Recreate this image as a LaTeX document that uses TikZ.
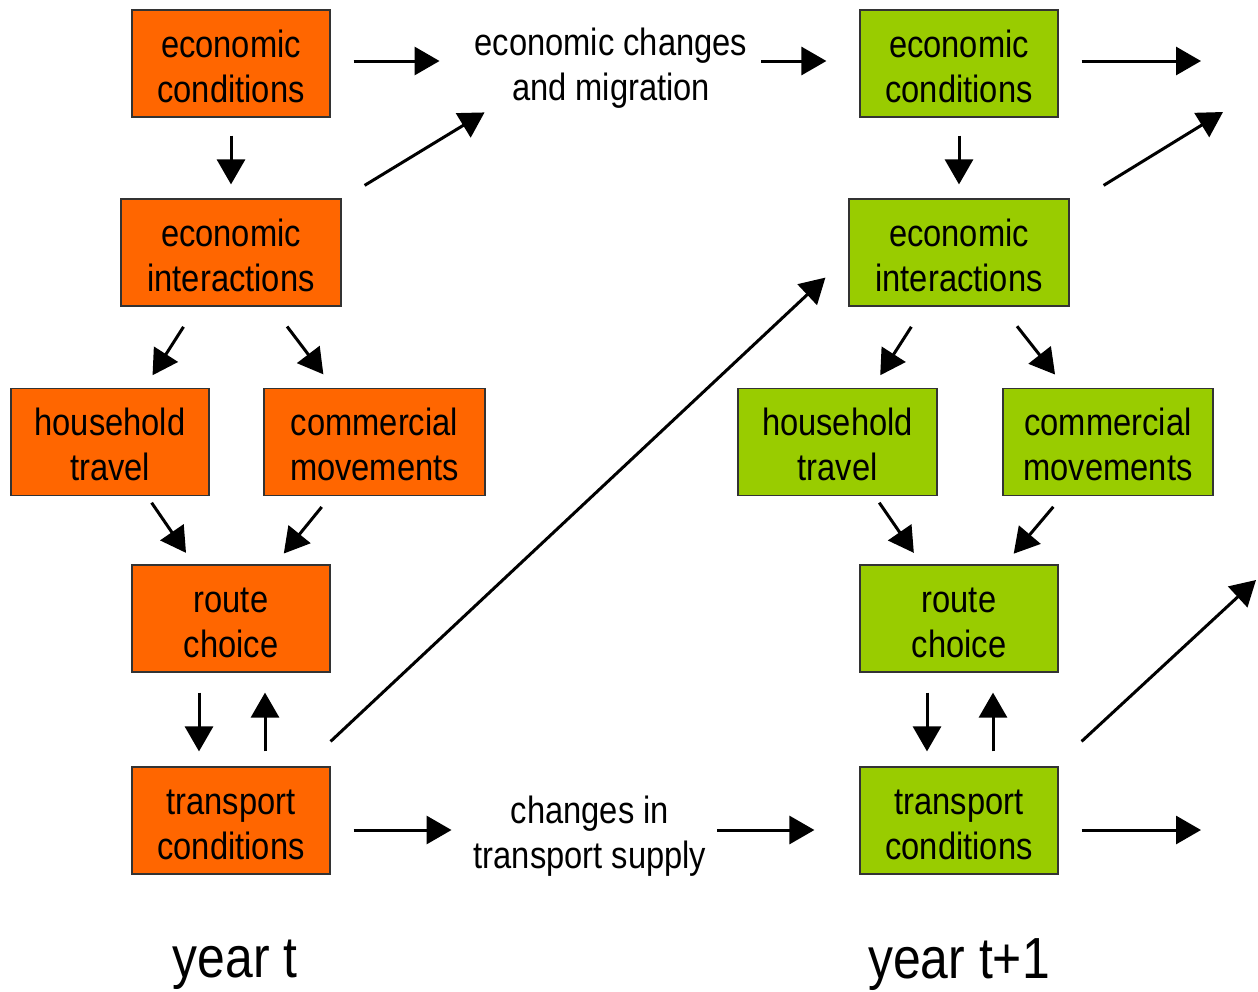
\documentclass[tikz,border=0pt]{standalone}
\usepackage{fontspec}
\setmainfont{Liberation Sans}[FakeStretch=0.86]
\usetikzlibrary{positioning,arrows.meta}

\definecolor{yearold}{HTML}{FF6600}
\definecolor{yearnew}{HTML}{99CC00}

\begin{document}
\begin{tikzpicture}[x=1pt,y=-1pt,font=\fontsize{38}{45}\selectfont]
  \tikzstyle{box}=[draw=black!80,line width=1.2pt,align=center,minimum width=198pt,minimum height=107pt,inner sep=0pt,text height=77pt,text depth=0pt]
  \tikzstyle{old}=[box,fill=yearold]
  \tikzstyle{new}=[box,fill=yearnew]
  \tikzstyle{note}=[align=center,inner sep=0pt]
  \tikzstyle{arr}=[line width=3pt,-{Triangle[length=25pt,width=28pt]}]
  \useasboundingbox (0,0) rectangle (1258,991);

  % year t
  \node[old] (econ1) at (231,63.5) {economic\\conditions};
  \node[old,minimum width=220pt] (inter1) at (231,252.5) {economic\\interactions};
  \node[old] (house1) at (110,442) {household\\travel};
  \node[old,minimum width=221pt] (comm1) at (374.5,442) {commercial\\movements};
  \node[old] (route1) at (231,618.5) {route\\choice};
  \node[old] (trans1) at (231,820.5) {transport\\conditions};

  % year t+1
  \node[new] (econ2) at (959,63.5) {economic\\conditions};
  \node[new,minimum width=220pt] (inter2) at (959,252.5) {economic\\interactions};
  \node[new,minimum width=199pt] (house2) at (837.5,442) {household\\travel};
  \node[new,minimum width=210pt] (comm2) at (1108,442) {commercial\\movements};
  \node[new] (route2) at (959,618.5) {route\\choice};
  \node[new] (trans2) at (959,820.5) {transport\\conditions};

  \node[note] (migr) at (611,68) {economic changes\\and migration};
  \node[note] (supply) at (590,836) {changes in\\transport supply};

  \node[font=\fontsize{58}{60}\selectfont] (year1) at (235,965) {year t};
  \node[font=\fontsize{58}{60}\selectfont] (year2) at (959,965) {year t+1};

  \coordinate (out1) at (1201,61);
  \coordinate (out2) at (1223,112);
  \coordinate (out3) at (1201,830);
  \coordinate (out4) at (1256,580);

  % economy row
  \draw[arr,shorten <=23pt,shorten >=35pt] ([yshift=2.5pt]econ1.east) -- ([yshift=7pt]migr.west);
  \draw[arr,shorten <=14pt,shorten >=33pt] ([yshift=7pt]migr.east) -- ([yshift=2.5pt]econ2.west);
  \draw[arr,shorten <=23pt] ([yshift=2.5pt]econ2.east) -- (out1);
  \draw[arr] ([shift={(23pt,13pt)}]inter1.north east) -- ([shift={(10pt,-4pt)}]migr.south west);
  \draw[arr] ([shift={(34pt,13pt)}]inter2.north east) -- (out2);

  % inside each year
  \foreach \y in {1,2} {
    \draw[arr,shorten <=18pt,shorten >=14pt] (econ\y) -- (inter\y);
    \draw[arr,shorten <=24pt,shorten >=15pt] (inter\y) -- (house\y);
    \draw[arr,shorten <=25pt,shorten >=17pt] (inter\y) -- (comm\y);
    \draw[arr,shorten <=8pt,shorten >=14pt] (house\y) -- (route\y);
    \draw[arr,shorten <=14pt,shorten >=14pt] (comm\y) -- (route\y);
    \draw[arr,shorten <=20pt,shorten >=15pt] ([xshift=-32pt]route\y.south) -- ([xshift=-32pt]trans\y.north);
    \draw[arr,shorten <=15pt,shorten >=20pt] ([xshift=34pt]trans\y.north) -- ([xshift=34pt]route\y.south);
  }

  % transport row
  \draw[arr,shorten <=23pt,shorten >=22pt] ([yshift=-9.5pt]trans1.east) -- ([yshift=6pt]supply.west);
  \draw[arr,shorten <=11pt,shorten >=45pt] ([yshift=6pt]supply.east) -- ([yshift=-9.5pt]trans2.west);
  \draw[arr,shorten <=23pt] ([yshift=-9.5pt]trans2.east) -- (out3);
  \draw[arr] ([yshift=25pt]trans1.north east) -- ([shift={(-23pt,29pt)}]inter2.south west);
  \draw[arr] ([shift={(23pt,25pt)}]trans2.north east) -- (out4);
\end{tikzpicture}
\end{document}
